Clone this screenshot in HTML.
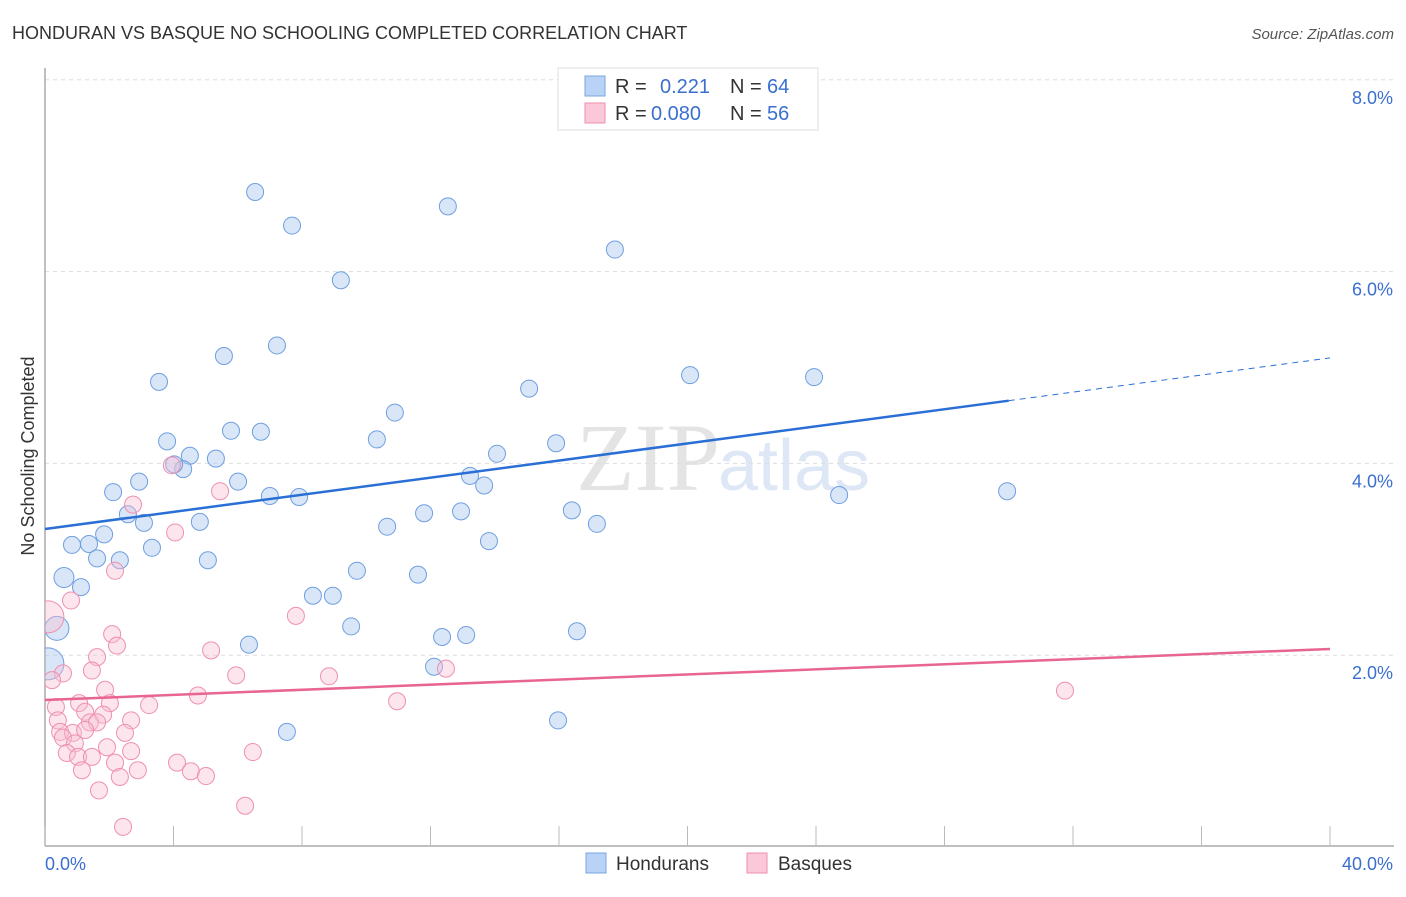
<!DOCTYPE html>
<html><head><meta charset="utf-8"><style>
body{margin:0;background:#fff;font-family:"Liberation Sans",sans-serif;}
#wrap{position:relative;width:1406px;height:892px;}
</style></head><body>
<div id="wrap">
<svg id="svg" width="1406" height="892">
<defs><clipPath id="plotclip"><rect x="45" y="60" width="1360" height="786"/></clipPath></defs>
<text x="12" y="39" font-size="18" fill="#333">HONDURAN VS BASQUE NO SCHOOLING COMPLETED CORRELATION CHART</text>
<text x="1394" y="39" font-size="15" fill="#555" text-anchor="end" font-style="italic">Source: ZipAtlas.com</text>
<text x="720" y="490" font-size="96" fill="#e4e4e4" text-anchor="end" font-family="Liberation Serif">ZIP</text>
<text x="718" y="490" font-size="72" fill="#dde7f5">atlas</text>
<g id="grid"></g><g id="axes"></g><g id="pts" clip-path="url(#plotclip)"></g><g id="lines"></g>
<text x="34" y="456" font-size="18" fill="#333" text-anchor="middle" transform="rotate(-90 34 456)">No Schooling Completed</text>
<g>
<rect x="558" y="68" width="260" height="62" fill="#fff" stroke="#ddd"/>
<rect x="585" y="76" width="20" height="20" fill="#b8d3f5" stroke="#7aa6e0"/>
<text x="615" y="93" font-size="20" fill="#333">R = </text><text x="660" y="93" font-size="20" fill="#3a6fd0">0.221</text>
<text x="730" y="93" font-size="20" fill="#333">N = </text><text x="767" y="93" font-size="20" fill="#3a6fd0">64</text>
<rect x="585" y="103" width="20" height="20" fill="#fac8d8" stroke="#ee8fae"/>
<text x="615" y="120" font-size="20" fill="#333">R = </text><text x="651" y="120" font-size="20" fill="#3a6fd0">0.080</text>
<text x="730" y="120" font-size="20" fill="#333">N = </text><text x="767" y="120" font-size="20" fill="#3a6fd0">56</text>
</g>
<g>
<rect x="586" y="853" width="20" height="20" fill="#b8d3f5" stroke="#7aa6e0"/>
<text x="616" y="870" font-size="19" fill="#333">Hondurans</text>
<rect x="747" y="853" width="20" height="20" fill="#fac8d8" stroke="#ee8fae"/>
<text x="778" y="870" font-size="19" fill="#333">Basques</text>
</g>
</svg></div>
<script>
const xTicks=[0,4,8,12,16,20,24,28,32,36,40];
const yTicks=[2,4,6,8];
const yTickLabels=["2.0%","4.0%","6.0%","8.0%"];
const xEndLabels=["0.0%","40.0%"];
const blueX=[6.54,7.69,12.54,17.74,9.21,5.57,7.22,3.55,15.07,20.08,23.94,10.89,3.80,5.79,6.72,10.33,4.51,5.32,4.30,4.02,14.07,15.91,13.23,2.12,2.93,6.01,7.00,7.91,13.67,24.72,29.95,2.58,3.08,4.82,10.65,11.80,12.95,16.40,17.18,0.84,1.37,1.84,3.33,1.62,2.33,5.07,13.82,0.59,1.12,9.71,11.61,8.34,8.96,9.53,0.37,6.35,12.36,13.11,16.56,12.11,0.09,7.53,15.97,20.86];
const blueY=[6.83,6.48,6.68,6.23,5.91,5.12,5.23,4.85,4.78,4.92,4.90,4.53,4.23,4.34,4.33,4.25,4.08,4.05,3.94,3.99,4.10,4.21,3.87,3.70,3.81,3.81,3.66,3.65,3.77,3.67,3.71,3.47,3.38,3.39,3.34,3.48,3.50,3.51,3.37,3.15,3.16,3.26,3.12,3.01,2.99,2.99,3.19,2.81,2.71,2.88,2.84,2.62,2.62,2.30,2.28,2.11,2.19,2.21,2.25,1.88,1.91,1.20,1.32,8.00];
const pinkX=[0.81,0.09,2.09,2.24,1.62,1.46,0.56,0.22,1.87,1.06,0.34,2.02,3.24,4.76,5.17,5.95,7.81,8.84,1.25,1.81,1.40,1.62,2.68,0.40,0.47,0.87,1.25,2.49,0.56,0.93,1.93,2.68,0.68,1.03,1.46,2.18,1.15,2.89,2.33,4.11,4.54,5.01,6.47,1.68,6.23,2.43,2.74,3.95,5.45,4.05,2.18,10.96,12.48,31.75];
const pinkY=[2.57,2.40,2.22,2.10,1.98,1.84,1.81,1.74,1.64,1.50,1.46,1.50,1.48,1.58,2.05,1.79,2.41,1.78,1.41,1.38,1.30,1.30,1.32,1.32,1.20,1.19,1.22,1.19,1.14,1.08,1.04,1.00,0.98,0.94,0.94,0.88,0.80,0.80,0.73,0.88,0.79,0.74,0.99,0.59,0.43,0.21,3.57,3.98,3.71,3.28,2.88,1.52,1.86,1.63];
const blueTrend=[3.316,5.10], pinkTrend=[1.533,2.065];
const X=v=>45+v*1285/40, Y=v=>847-v*95.9;
const NS="http://www.w3.org/2000/svg";
function mk(tag,attrs,parent){const e=document.createElementNS(NS,tag);for(const k in attrs)e.setAttribute(k,attrs[k]);document.getElementById(parent).appendChild(e);return e;}
yTicks.forEach((t,i)=>{
 const l=mk('line',{x1:45,x2:1394,y1:Y(t),y2:Y(t),stroke:'#ddd','stroke-dasharray':'4 4'},'grid');
 
 
 const tx=mk('text',{x:1393,y:Y(t)+24,'font-size':18,fill:'#3a6fd0','text-anchor':'end'},'grid');
 tx.textContent=yTickLabels[i];
 
 
});
const ax=mk('line',{x1:45,x2:1394,y1:846,y2:846,stroke:'#aaa','stroke-width':1.5},'axes');


const ay=mk('line',{x1:45,x2:45,y1:68,y2:846,stroke:'#aaa','stroke-width':1.5},'axes');


xTicks.forEach(t=>{const l=mk('line',{x1:X(t),x2:X(t),y1:826,y2:846,stroke:'#bbb'},'axes');
 
 });
[[0,'start'],[40,'end']].forEach((p,i)=>{const t=mk('text',{x:i?1393:X(p[0]),y:870,'font-size':18,fill:'#3a6fd0','text-anchor':p[1]},'axes');t.textContent=xEndLabels[i];
 
 });
const bigR={47:10,54:12,60:16};
blueX.forEach((x,i)=>{const c=mk('circle',{cx:X(x),cy:Y(blueY[i]),r:bigR[i]||8.5,fill:'rgba(170,200,240,0.45)',stroke:'#6f9fe0','stroke-width':1},'pts');
 
 });
pinkX.forEach((x,i)=>{const c=mk('circle',{cx:X(x),cy:Y(pinkY[i]),r:i==1?16:8.5,fill:'rgba(248,190,210,0.4)',stroke:'#ee90b0','stroke-width':1},'pts');
 
 });
const bAt=v=>blueTrend[0]+(blueTrend[1]-blueTrend[0])*v/40;
const b1=mk('line',{x1:X(0),y1:Y(bAt(0)),x2:X(30),y2:Y(bAt(30)),stroke:'#2a6fd6','stroke-width':2.5},'lines');


const b2=mk('line',{x1:X(30),y1:Y(bAt(30)),x2:X(40),y2:Y(bAt(40)),stroke:'#2a6fd6','stroke-width':1,'stroke-dasharray':'6 5'},'lines');


const p1=mk('line',{x1:X(0),y1:Y(pinkTrend[0]),x2:X(40),y2:Y(pinkTrend[1]),stroke:'#e8658f','stroke-width':2.5},'lines');


</script>
</body></html>
